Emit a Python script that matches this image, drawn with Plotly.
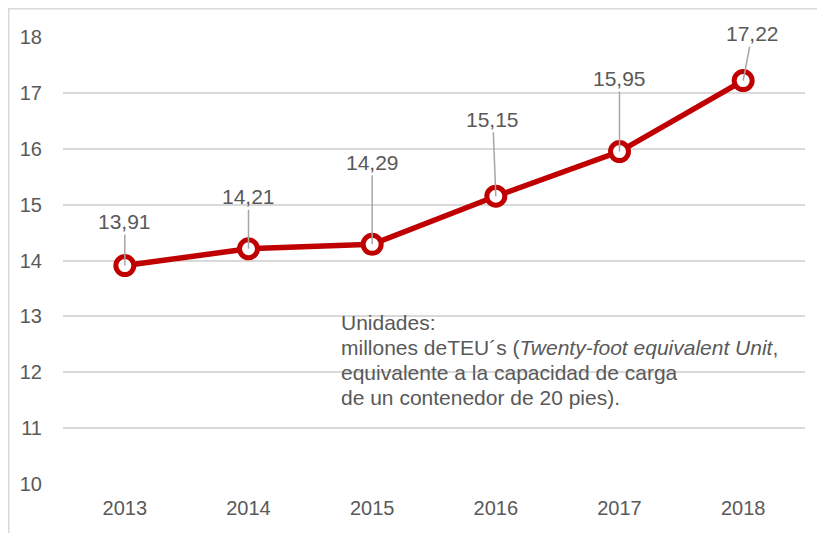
import plotly.graph_objects as go

years = ["2013", "2014", "2015", "2016", "2017", "2018"]
teu = [13.91, 14.21, 14.29, 15.15, 15.95, 17.22]
labels = ["13,91", "14,21", "14,29", "15,15", "15,95", "17,22"]
label_dx = [0, 0, 0, -3, 0, 9]
label_dy = [-44, -52, -82, -77, -73, -47]
y_ticks = [10, 11, 12, 13, 14, 15, 16, 17, 18]
note_lines = [
    "Unidades:",
    "millones deTEU´s (<i>Twenty-foot equivalent Unit</i>,",
    "equivalente a la capacidad de carga",
    "de un contenedor de 20 pies).",
]

red = "#C00000"
gray_text = "#595959"
grid = "#D9D9D9"
font_fam = "Liberation Sans, Arial"

x_idx = list(range(len(years)))

W, H = 817, 525
ML, MR, MT, MB = 55, 20, 29, 49
PW, PH = W - ML - MR, H - MT - MB

fig = go.Figure()
fig.add_trace(go.Scatter(
    x=x_idx, y=teu, mode="lines+markers",
    line=dict(color=red, width=5.5),
    marker=dict(symbol="circle", size=18, color="white",
                line=dict(color=red, width=5)),
    hoverinfo="skip", showlegend=False,
))

for x, y, t, dx, dy in zip(x_idx, teu, labels, label_dx, label_dy):
    fig.add_annotation(
        x=x, y=y, xref="x", yref="y", text=t,
        showarrow=True, arrowhead=0, arrowwidth=1.5, arrowcolor="#A6A6A6",
        ax=dx, ay=dy,
        font=dict(family=font_fam, size=21, color=gray_text),
    )

# note text, one annotation per line (line pitch ~25 px)
note_x = (339 - 8 - ML) / PW
first_center = 322 - 8 - MT  # px from plot top
for i, line in enumerate(note_lines):
    yc = 1 - (first_center + 25 * i) / PH
    fig.add_annotation(
        xref="paper", yref="paper", x=note_x, y=yc,
        xanchor="left", yanchor="middle", align="left", showarrow=False,
        text=line, font=dict(family=font_fam, size=21, color=gray_text),
    )

# outer chart border
fig.add_shape(type="rect", xref="paper", yref="paper",
              x0=(0.75 - ML) / PW, x1=1.05, y0=-0.15, y1=1 + (MT - 0.75) / PH,
              line=dict(color=grid, width=1.5), layer="below")

fig.update_layout(
    width=W, height=H,
    margin=dict(l=ML, r=MR, t=MT, b=MB),
    paper_bgcolor="white", plot_bgcolor="white",
    font=dict(family=font_fam, color=gray_text),
    xaxis=dict(range=[-0.5, 5.5], tickvals=x_idx, ticktext=years,
               showgrid=False, showline=False, zeroline=False,
               ticks="outside", ticklen=6, tickcolor="rgba(0,0,0,0)",
               tickfont=dict(size=20, color=gray_text)),
    yaxis=dict(range=[10, 18], tickvals=y_ticks, showgrid=True, gridcolor=grid,
               gridwidth=1.5, zeroline=False, showline=False, ticks="outside",
               ticklen=16, tickcolor="rgba(0,0,0,0)",
               tickfont=dict(size=20, color=gray_text)),
)

fig.write_html("out.html")
